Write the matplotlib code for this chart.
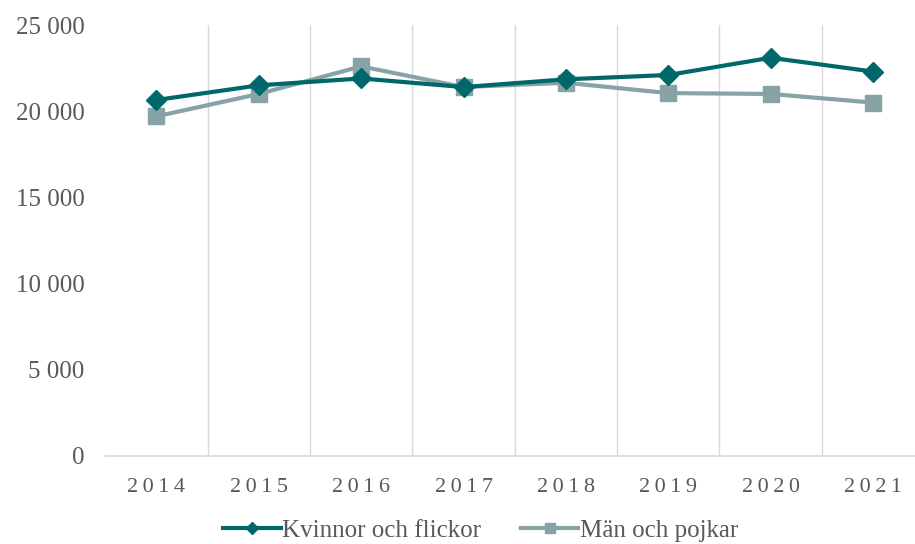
import matplotlib.pyplot as plt
from matplotlib.ticker import FuncFormatter

years = ["2014", "2015", "2016", "2017", "2018", "2019", "2020", "2021"]
kvinnor = [20650, 21500, 21900, 21400, 21850, 22100, 23100, 22300]
man = [19700, 21000, 22600, 21400, 21650, 21050, 21000, 20500]

plt.rcParams['font.family'] = ['Liberation Serif', 'DejaVu Serif']

fig = plt.figure(figsize=(9.15, 5.44), dpi=100)
ax = fig.add_axes([0.115, 0.162, 0.895, 0.792])

x = range(len(years))
ax.plot(x, kvinnor, color="#00676B", lw=3, marker="D", markersize=10,
        label="Kvinnor och flickor", zorder=3)
ax.plot(x, man, color="#88A3A6", lw=3, marker="s", markersize=12,
        label="Män och pojkar", zorder=2)

ax.set_xlim(-0.5, len(years) - 0.5)
ax.set_ylim(0, 25000)
ax.set_yticks(range(0, 25001, 5000))
ax.yaxis.set_major_formatter(FuncFormatter(lambda v, p: f"{int(v):,}".replace(",", " ")))
ax.set_xticks(list(x))
ax.set_xticklabels(["\u2009".join(y) for y in years])

# vertical gridlines between categories
for b in range(1, len(years)):
    ax.axvline(b - 0.5, color="#d9d9d9", lw=1, zorder=0)

for s in ["top", "right", "left"]:
    ax.spines[s].set_visible(False)
ax.spines["bottom"].set_color("#d9d9d9")
ax.spines["bottom"].set_linewidth(1.2)
ax.tick_params(axis="both", length=0, colors="#595959")
ax.tick_params(axis="x", pad=16, labelsize=16)
ax.tick_params(axis="y", pad=15, labelsize=18)

leg = fig.legend(loc="center", bbox_to_anchor=(0.525, 0.024), ncol=2, frameon=False,
                 fontsize=18, handlelength=2.3, handletextpad=0.05, columnspacing=1.6,
                 markerscale=0.6)
for t in leg.get_texts():
    t.set_color("#595959")

fig.savefig("out.png", dpi=100)
